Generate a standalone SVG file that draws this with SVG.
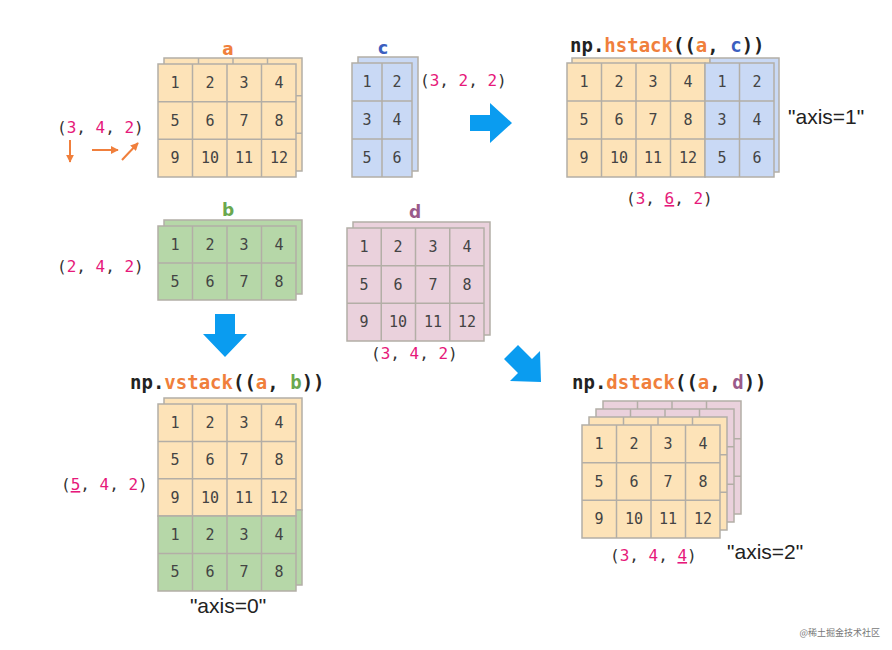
<svg xmlns="http://www.w3.org/2000/svg" width="892" height="650" viewBox="0 0 892 650">
<style>
.g{stroke:#b3aea6;stroke-width:1.5}
.y{fill:#fde3b8}.bl{fill:#c9d9f5}.gr{fill:#b6d7a8}.pk{fill:#ead1dc}
.n{font-family:"DejaVu Sans Mono",monospace;font-size:15px;fill:#444;text-anchor:middle;dominant-baseline:central}
.t{font-family:"DejaVu Sans Mono",monospace;font-size:16px;fill:#333}
.p{fill:#e6197a}
.h{font-family:"DejaVu Sans Mono",monospace;font-size:19px;font-weight:bold;fill:#222}
.o{fill:#f07f3c}
.lbl{font-family:"DejaVu Sans",sans-serif;font-size:17px;font-weight:bold;text-anchor:middle}
.ax{font-family:"Liberation Sans",sans-serif;font-size:21px;fill:#222}
.oa{stroke:#f07f3c;stroke-width:2;fill:none;marker-end:url(#oa)}
</style>
<defs>
<marker id="oa" viewBox="0 0 10 10" refX="9" refY="5" markerWidth="4" markerHeight="4" orient="auto"><path d="M0,0L10,5L0,10z" fill="#f07f3c"/></marker>
</defs>

<g id="a">
<rect x="164" y="58" width="138" height="113" class="g y"/>
<path d="M198.5,58V64M233,58V64M267.5,58V64M296,95.7H302M296,133.3H302" class="g"/>
<rect x="158" y="64" width="138" height="113" class="g y"/>
<path d="M192.5,64V177M227,64V177M261.5,64V177M158,101.7H296M158,139.3H296" class="g" fill="none"/>
<text x="228" y="55" class="lbl o">a</text>
<g class="n"><text x="175" y="83">1</text><text x="210" y="83">2</text><text x="244" y="83">3</text><text x="279" y="83">4</text>
<text x="175" y="120.5">5</text><text x="210" y="120.5">6</text><text x="244" y="120.5">7</text><text x="279" y="120.5">8</text>
<text x="175" y="158">9</text><text x="210" y="158">10</text><text x="244" y="158">11</text><text x="279" y="158">12</text></g>
<text x="57" y="133" class="t">(<tspan class="p">3</tspan>, <tspan class="p">4</tspan>, <tspan class="p">2</tspan>)</text>
</g>

<g id="c">
<rect x="358" y="57" width="60" height="114" class="g bl"/>
<rect x="352" y="63" width="60" height="114" class="g bl"/>
<path d="M382,63V177M352,101H412M352,139H412" class="g"/>
<text x="383" y="54" class="lbl" fill="#3b5fc0">c</text>
<g class="n"><text x="367" y="82">1</text><text x="397" y="82">2</text><text x="367" y="120">3</text><text x="397" y="120">4</text><text x="367" y="158">5</text><text x="397" y="158">6</text></g>
<text x="420" y="86" class="t">(<tspan class="p">3</tspan>, <tspan class="p">2</tspan>, <tspan class="p">2</tspan>)</text>
</g>

<g id="hstack">
<rect x="572" y="58" width="138" height="114" class="g y"/>
<rect x="710" y="58" width="69" height="114" class="g bl"/>
<rect x="567" y="63" width="138" height="114" class="g y"/>
<rect x="705" y="63" width="69" height="114" class="g bl"/>
<path d="M601.5,63V177M636,63V177M670.5,63V177M739.5,63V177M567,101H774M567,139H774" class="g"/>
<text x="570" y="52" class="h">np.<tspan class="o">hstack</tspan>((<tspan class="o">a</tspan>, <tspan fill="#3b5fc0">c</tspan>))</text>
<g class="n"><text x="584" y="82">1</text><text x="619" y="82">2</text><text x="653" y="82">3</text><text x="688" y="82">4</text><text x="722" y="82">1</text><text x="757" y="82">2</text>
<text x="584" y="120">5</text><text x="619" y="120">6</text><text x="653" y="120">7</text><text x="688" y="120">8</text><text x="722" y="120">3</text><text x="757" y="120">4</text>
<text x="584" y="158">9</text><text x="619" y="158">10</text><text x="653" y="158">11</text><text x="688" y="158">12</text><text x="722" y="158">5</text><text x="757" y="158">6</text></g>
<text x="626" y="204" class="t">(<tspan class="p">3</tspan>, <tspan class="p" text-decoration="underline">6</tspan>, <tspan class="p">2</tspan>)</text>
<text x="788" y="124" class="ax">"axis=1"</text>
</g>

<g id="b">
<rect x="164" y="220" width="138" height="74" class="g gr"/>
<rect x="158" y="226" width="138" height="74" class="g gr"/>
<path d="M192.5,226V300M227,226V300M261.5,226V300M158,263H296" class="g"/>
<text x="228" y="216" class="lbl" fill="#6aa84f">b</text>
<g class="n"><text x="175" y="244.5">1</text><text x="210" y="244.5">2</text><text x="244" y="244.5">3</text><text x="279" y="244.5">4</text>
<text x="175" y="281.5">5</text><text x="210" y="281.5">6</text><text x="244" y="281.5">7</text><text x="279" y="281.5">8</text></g>
<text x="57" y="272" class="t">(<tspan class="p">2</tspan>, <tspan class="p">4</tspan>, <tspan class="p">2</tspan>)</text>
</g>

<g id="d">
<rect x="353" y="222" width="137" height="113" class="g pk"/>
<rect x="347" y="228" width="137" height="113" class="g pk"/>
<path d="M381.25,228V341M415.5,228V341M449.75,228V341M347,265.7H484M347,303.3H484" class="g"/>
<text x="415" y="218" class="lbl" fill="#9a5a8a">d</text>
<g class="n"><text x="364" y="247">1</text><text x="398" y="247">2</text><text x="433" y="247">3</text><text x="467" y="247">4</text>
<text x="364" y="284.5">5</text><text x="398" y="284.5">6</text><text x="433" y="284.5">7</text><text x="467" y="284.5">8</text>
<text x="364" y="322">9</text><text x="398" y="322">10</text><text x="433" y="322">11</text><text x="467" y="322">12</text></g>
<text x="371" y="359" class="t">(<tspan class="p">3</tspan>, <tspan class="p">4</tspan>, <tspan class="p">2</tspan>)</text>
</g>

<g id="vstack">
<rect x="164" y="398" width="138" height="112" class="g y"/>
<rect x="164" y="510" width="138" height="75" class="g gr"/>
<rect x="158" y="404" width="138" height="112" class="g y"/>
<rect x="158" y="516" width="138" height="75" class="g gr"/>
<path d="M192.5,404V591M227,404V591M261.5,404V591M158,441.4H296M158,478.8H296M158,553.6H296" class="g"/>
<text x="130" y="389" class="h">np.<tspan class="o">vstack</tspan>((<tspan class="o">a</tspan>, <tspan fill="#6aa84f">b</tspan>))</text>
<g class="n"><text x="175" y="422.7">1</text><text x="210" y="422.7">2</text><text x="244" y="422.7">3</text><text x="279" y="422.7">4</text>
<text x="175" y="460">5</text><text x="210" y="460">6</text><text x="244" y="460">7</text><text x="279" y="460">8</text>
<text x="175" y="497.5">9</text><text x="210" y="497.5">10</text><text x="244" y="497.5">11</text><text x="279" y="497.5">12</text>
<text x="175" y="535">1</text><text x="210" y="535">2</text><text x="244" y="535">3</text><text x="279" y="535">4</text>
<text x="175" y="572">5</text><text x="210" y="572">6</text><text x="244" y="572">7</text><text x="279" y="572">8</text></g>
<text x="61" y="490" class="t">(<tspan class="p" text-decoration="underline">5</tspan>, <tspan class="p">4</tspan>, <tspan class="p">2</tspan>)</text>
<text x="228" y="613" class="ax" text-anchor="middle">"axis=0"</text>
</g>

<g id="dstack">
<rect x="603" y="401" width="138" height="113" class="g pk"/>
<path d="M637.5,401V409M672,401V409M706.5,401V409M734,438.7H741M734,476.3H741" class="g"/>
<rect x="596" y="409" width="138" height="113" class="g pk"/>
<path d="M630.5,409V417M665,409V417M699.5,409V417M727,446.7H734M727,484.3H734" class="g"/>
<rect x="589" y="417" width="138" height="113" class="g y"/>
<path d="M623.5,417V425M658,417V425M692.5,417V425M720,454.7H727M720,492.3H727" class="g"/>
<rect x="582" y="425" width="138" height="113" class="g y"/>
<path d="M616.5,425V538M651,425V538M685.5,425V538M582,462.7H720M582,500.3H720" class="g"/>
<text x="572" y="389" class="h">np.<tspan class="o">dstack</tspan>((<tspan class="o">a</tspan>, <tspan fill="#9a5a8a">d</tspan>))</text>
<g class="n"><text x="599" y="444">1</text><text x="634" y="444">2</text><text x="668" y="444">3</text><text x="703" y="444">4</text>
<text x="599" y="481.5">5</text><text x="634" y="481.5">6</text><text x="668" y="481.5">7</text><text x="703" y="481.5">8</text>
<text x="599" y="519">9</text><text x="634" y="519">10</text><text x="668" y="519">11</text><text x="703" y="519">12</text></g>
<text x="610" y="561" class="t">(<tspan class="p">3</tspan>, <tspan class="p">4</tspan>, <tspan class="p" text-decoration="underline">4</tspan>)</text>
<text x="727" y="559" class="ax">"axis=2"</text>
</g>

<g id="connectors">
<path d="M70,140V162" class="oa"/>
<path d="M92,150H118" class="oa"/>
<path d="M122,160L138,143" class="oa"/>
<path d="M470,115H490V103L512,123L490,143V131H470Z" fill="#0a9cf0"/>
<path d="M215,314H235V334H247L225,357L203,334H215Z" fill="#0a9cf0"/>
<path d="M504,359L518,345L532,359L540,351L541,382L510,381L518,373Z" fill="#0a9cf0"/>
</g>
<text x="880" y="636" text-anchor="end" font-family="'Noto Sans CJK SC',sans-serif" font-size="9" fill="#777">@稀土掘金技术社区</text>
</svg>
